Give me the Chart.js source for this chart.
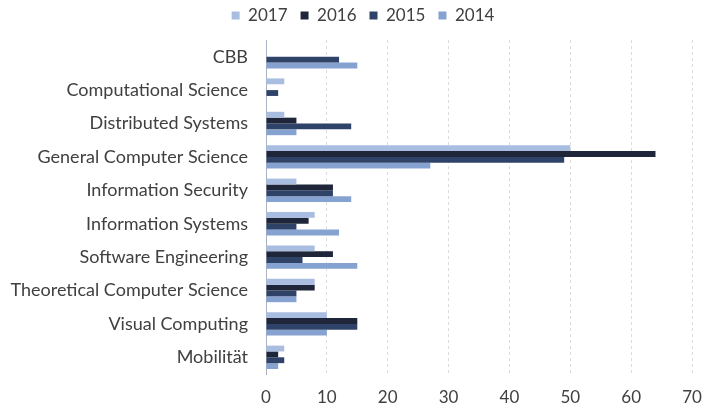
<!DOCTYPE html>
<html>
<head>
<meta charset="utf-8">
<script src="https://cdn.jsdelivr.net/npm/chart.js@4/dist/chart.umd.min.js"></script>
<style>
  html, body { margin: 0; padding: 0; background: #fff; }
  #wrap { width: 719px; height: 412px; }
</style>
</head>
<body>
<div id="wrap"><canvas id="chart"></canvas></div>
<script>
// categories (top to bottom) and one array per year
const categories = ['CBB', 'Computational Science', 'Distributed Systems', 'General Computer Science',
    'Information Security', 'Information Systems', 'Software Engineering',
    'Theoretical Computer Science', 'Visual Computing', 'Mobilität'];
const years = ['2017', '2016', '2015', '2014'];
const values2017 = [0, 3, 3, 50, 5, 8, 8, 8, 10, 3];
const values2016 = [0, 0, 5, 64, 11, 7, 11, 8, 15, 2];
const values2015 = [12, 2, 14, 49, 11, 5, 6, 5, 15, 3];
const values2014 = [15, 0, 5, 27, 14, 12, 15, 5, 10, 2];
const xTicks = [0, 10, 20, 30, 40, 50, 60, 70];

const colors = ['#a9bde0', '#1f2639', '#2f4369', '#86a2d1'];
const series = [values2017, values2016, values2015, values2014];

// legend sits higher and a bit more to the right than the default
const legendShift = {
    id: 'legendShift',
    afterInit: function(chart) {
        const lg = chart.legend;
        const fit = lg.fit;
        lg.fit = function() {
            fit.call(this);
            this.height += 6;
        };
    },
    afterLayout: function(chart) {
        chart.legend.left = 34;
    }
};

const ctx = document.getElementById('chart').getContext('2d');
const chart = new Chart(ctx, {
    type: 'bar',
    data: {
        labels: categories,
        datasets: years.map(function(y, i) {
            return {
                label: y,
                data: series[i],
                backgroundColor: colors[i],
                borderWidth: 0,
                categoryPercentage: 0.7,
                barPercentage: 1.0
            };
        })
    },
    plugins: [legendShift],
    options: {
        indexAxis: 'y',
        responsive: true,
        maintainAspectRatio: false,
        animation: false,
        layout: { padding: { top: -6, right: 27, bottom: 0, left: 0 } },
        plugins: {
            legend: {
                position: 'top',
                labels: {
                    boxWidth: 8,
                    boxHeight: 8,
                    padding: 13,
                    color: '#404040',
                    font: { family: 'Lato', size: 17 }
                }
            },
            tooltip: { enabled: false }
        },
        scales: {
            x: {
                min: xTicks[0],
                max: xTicks[xTicks.length - 1],
                afterBuildTicks: function(scale) {
                    scale.ticks = xTicks.map(function(v) { return { value: v }; });
                },
                afterFit: function(scale) { scale.height = 38; },
                grid: { color: '#dcdcdc', drawTicks: false },
                border: { display: false, dash: [3, 3] },
                ticks: { padding: 13, color: '#404040', font: { family: 'Lato', size: 17 } }
            },
            y: {
                afterFit: function(scale) { scale.width = 266; },
                grid: { display: false, drawTicks: false },
                border: { display: true, color: '#aab3c4', width: 1 },
                ticks: { padding: 18, color: '#404040', font: { family: 'Lato', size: 18 } }
            }
        }
    }
});
</script>
</body>
</html>
